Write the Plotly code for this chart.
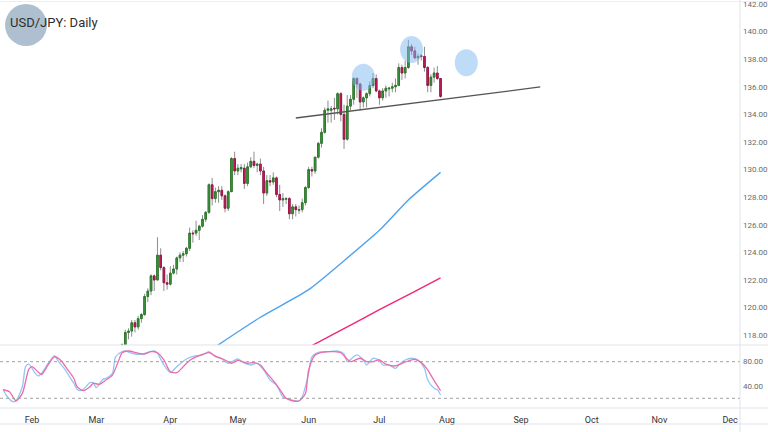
import numpy as np
import pandas as pd
import plotly.graph_objects as go

# ---------------- data ----------------
candle_dates = pd.bdate_range("2022-03-01", "2022-07-28")

opens = [
    # Mar
    115.0, 114.9, 115.5, 115.5, 114.8, 115.3, 115.7, 115.9, 116.1, 117.3, 118.2, 118.3, 118.9, 118.6, 119.2, 119.5, 120.8, 121.2, 122.3, 122.0, 123.8, 122.9, 121.8,
    # Apr
    121.7, 122.5, 122.8, 123.6, 123.8, 123.9, 124.3, 125.4, 125.4, 125.6, 125.9, 126.4, 126.9, 128.9, 127.9, 128.4, 128.5, 128.1, 127.2, 128.4, 130.8,
    # May
    129.9, 130.05, 130.1, 129.0, 130.2, 130.6, 130.3, 130.4, 129.9, 128.3, 129.2, 129.1, 129.4, 128.2, 127.8, 127.85, 127.9, 126.8, 127.3, 127.05, 127.1, 127.6,
    # Jun
    128.7, 130.0, 129.9, 130.9, 131.9, 132.7, 134.3, 134.3, 134.45, 134.4, 135.5, 134.0, 132.2, 134.6, 135.1, 136.6, 136.2, 134.9, 135.2, 135.5, 136.1, 136.6,
    # Jul
    135.7, 135.2, 135.7, 135.85, 135.9, 136.0, 136.1, 137.4, 137.0, 137.4, 138.9, 138.6, 138.1, 138.25, 138.2, 137.4, 136.1, 136.7, 137.0, 136.6,
]
highs = [
    115.2, 115.6, 115.8, 115.5, 115.5, 115.8, 116.2, 116.3, 117.4, 118.4, 118.5, 119.1, 119.1, 119.4, 119.6, 121.0, 121.4, 122.4, 122.4, 125.1, 124.3, 123.0, 122.4,
    123.0, 123.1, 123.7, 124.0, 124.1, 124.4, 125.8, 125.6, 126.3, 126.0, 126.7, 127.0, 129.0, 129.4, 128.7, 128.8, 128.8, 128.2, 128.5, 130.9, 131.3,
    130.4, 130.4, 130.4, 130.5, 130.9, 131.3, 130.5, 130.8, 130.2, 129.6, 129.6, 129.8, 129.5, 128.9, 128.3, 128.0, 128.0, 127.5, 127.5, 127.4, 127.9, 128.8,
    130.2, 130.2, 130.9, 132.0, 133.0, 134.5, 135.0, 134.6, 135.2, 135.6, 135.6, 134.7, 135.4, 135.4, 136.7, 136.7, 136.3, 135.3, 135.6, 136.4, 137.0, 136.9,
    135.8, 135.9, 136.1, 136.0, 136.3, 136.6, 137.7, 137.6, 137.9, 139.4, 139.1, 138.9, 138.4, 138.4, 138.9, 137.5, 136.9, 137.4, 137.5, 136.6,
]
lows = [
    114.6, 114.8, 115.3, 114.7, 114.7, 115.0, 115.6, 115.7, 116.0, 117.1, 117.7, 117.9, 118.2, 118.4, 118.9, 119.4, 120.4, 120.9, 121.2, 122.0, 122.7, 121.2, 121.3,
    121.6, 122.4, 122.4, 123.3, 123.3, 123.7, 124.1, 124.7, 125.2, 124.9, 125.8, 126.2, 126.8, 127.4, 127.6, 127.6, 127.8, 126.9, 127.0, 128.4, 129.6,
    129.6, 129.8, 128.6, 128.8, 130.1, 130.1, 129.8, 129.6, 127.5, 128.1, 128.8, 128.9, 128.0, 127.0, 127.3, 127.5, 126.4, 126.4, 126.6, 126.8, 126.9, 127.4,
    128.6, 129.5, 129.7, 130.8, 131.6, 132.6, 133.4, 133.4, 133.6, 134.0, 133.5, 131.5, 132.1, 134.3, 134.7, 135.2, 134.3, 134.5, 134.5, 135.3, 135.9, 135.6,
    134.7, 135.0, 135.2, 135.3, 135.6, 135.6, 136.1, 136.5, 136.6, 137.3, 138.3, 138.0, 137.6, 137.9, 137.1, 135.6, 135.6, 136.3, 136.5, 135.2,
]
closes = [
    114.9, 115.5, 115.5, 114.8, 115.3, 115.7, 115.9, 116.1, 117.3, 118.2, 118.3, 118.9, 118.6, 119.2, 119.5, 120.8, 121.2, 122.3, 122.0, 123.8, 122.9, 121.8, 121.7,
    122.5, 122.8, 123.6, 123.8, 123.9, 124.3, 125.4, 125.35, 125.6, 125.9, 126.4, 126.9, 128.9, 127.9, 128.4, 128.5, 128.1, 127.2, 128.4, 130.8, 129.9,
    130.1, 130.15, 129.0, 130.2, 130.6, 130.3, 130.4, 129.9, 128.3, 129.2, 129.1, 129.4, 128.2, 127.8, 127.9, 127.9, 126.8, 127.3, 127.1, 127.1, 127.6, 128.7,
    130.0, 129.9, 130.9, 131.9, 132.7, 134.3, 134.4, 134.4, 134.4, 135.5, 134.0, 132.2, 134.6, 135.1, 136.6, 136.2, 134.9, 135.2, 135.5, 136.1, 136.6, 135.7,
    135.2, 135.7, 135.9, 135.9, 136.0, 136.1, 137.4, 137.0, 137.4, 138.9, 138.6, 138.1, 138.2, 138.2, 137.4, 136.1, 136.7, 137.0, 136.6, 135.3,
]
assert len(opens) == len(highs) == len(lows) == len(closes) == len(candle_dates)

# moving averages
ma100_dates = ["2022-04-20", "2022-05-11", "2022-06-01", "2022-06-16", "2022-07-01", "2022-07-14", "2022-07-28"]
ma100_vals = [117.0, 119.3, 121.3, 123.4, 125.6, 127.8, 129.8]
ma200_dates = ["2022-06-02", "2022-06-17", "2022-07-01", "2022-07-15", "2022-07-28"]
ma200_vals = [117.25, 118.6, 119.85, 121.05, 122.15]

# stochastic %K (blue) and %D (pink)
k_dates = ["2022-01-19", "2022-01-20", "2022-01-24", "2022-01-25", "2022-01-27", "2022-01-28", "2022-01-31",
           "2022-02-02", "2022-02-03", "2022-02-04", "2022-02-08", "2022-02-10", "2022-02-11", "2022-02-15", "2022-02-16",
           "2022-02-18", "2022-02-21", "2022-02-22", "2022-02-23", "2022-02-25", "2022-02-28",
           "2022-03-01", "2022-03-03", "2022-03-04", "2022-03-08", "2022-03-09", "2022-03-11", "2022-03-14", "2022-03-16",
           "2022-03-21", "2022-03-23", "2022-03-25", "2022-03-28", "2022-03-30",
           "2022-04-01", "2022-04-05", "2022-04-08", "2022-04-13", "2022-04-15", "2022-04-19", "2022-04-21", "2022-04-25", "2022-04-27",
           "2022-05-02", "2022-05-04", "2022-05-06", "2022-05-10", "2022-05-12", "2022-05-16", "2022-05-18", "2022-05-20",
           "2022-05-24", "2022-05-27", "2022-05-30",
           "2022-06-01", "2022-06-02", "2022-06-06", "2022-06-09", "2022-06-14", "2022-06-16", "2022-06-17", "2022-06-21",
           "2022-06-22", "2022-06-24", "2022-06-27", "2022-06-29",
           "2022-07-01", "2022-07-04", "2022-07-06", "2022-07-08", "2022-07-11", "2022-07-13", "2022-07-15", "2022-07-19",
           "2022-07-21", "2022-07-22", "2022-07-26", "2022-07-27", "2022-07-28"]
k_vals = [34.8, 25, 14.5, 15.6, 39, 71.8, 76,
          61, 56.5, 61, 77, 90, 82, 69, 61,
          44.6, 34.8, 32.5, 34.8, 45.6, 45.6,
          37.4, 51, 52.8, 61, 88, 96.4, 97.5, 93.8,
          92, 95.4, 97.5, 93.8, 74.6,
          62.6, 71.8, 84.4, 89.8, 91, 96.4, 88, 84.4, 77.4,
          84.4, 77.4, 74.6, 77.4, 66.4, 50, 41.8, 22.6,
          18.4, 16, 22.6,
          61, 88, 95.4, 96.4, 97.5, 92.6, 80, 88,
          91, 82.8, 74.6, 85.6,
          82.5, 74.6, 74.6, 69, 74.6, 82.8, 85.6, 82.5,
          69, 50, 36.4, 34, 25.4]
d_dates = ["2022-01-19", "2022-01-21", "2022-01-25", "2022-01-27", "2022-01-31",
           "2022-02-01", "2022-02-03", "2022-02-04", "2022-02-08", "2022-02-10", "2022-02-14", "2022-02-16", "2022-02-18",
           "2022-02-21", "2022-02-23", "2022-02-25", "2022-02-28",
           "2022-03-02", "2022-03-04", "2022-03-08", "2022-03-10", "2022-03-11", "2022-03-15", "2022-03-18", "2022-03-22",
           "2022-03-24", "2022-03-28", "2022-03-30",
           "2022-04-01", "2022-04-05", "2022-04-07", "2022-04-11", "2022-04-14", "2022-04-19", "2022-04-21", "2022-04-26", "2022-04-28",
           "2022-05-02", "2022-05-05", "2022-05-09", "2022-05-11", "2022-05-13", "2022-05-17", "2022-05-19", "2022-05-23",
           "2022-05-25", "2022-05-27", "2022-05-31",
           "2022-06-01", "2022-06-03", "2022-06-07", "2022-06-13", "2022-06-15", "2022-06-17", "2022-06-20", "2022-06-23",
           "2022-06-27", "2022-06-29",
           "2022-07-01", "2022-07-05", "2022-07-08", "2022-07-12", "2022-07-18", "2022-07-20", "2022-07-22", "2022-07-26", "2022-07-28"]
d_vals = [34, 30.8, 16, 28, 67.5,
          71.8, 62.6, 59, 74.6, 88, 82, 67.5, 52.8,
          39, 32.5, 39, 44.6,
          43, 50, 58, 82.8, 94.7, 97.5, 93.8, 92.6,
          96.4, 94.7, 82.8,
          63.6, 62, 71.8, 82, 89.8, 94.7, 89, 82.8, 77.4,
          82, 77.4, 78.5, 74.6, 61, 48.9, 34.8, 20,
          16, 15.6, 28,
          66.4, 91, 95.4, 96.4, 94.7, 83.8, 80, 85.6,
          80, 80,
          82.8, 76, 73, 77.4, 83.8, 78.5, 66.4, 48.9, 32.5]
assert len(k_dates) == len(k_vals) and len(d_dates) == len(d_vals)
stoch_levels = [80, 20]

# drawings: neckline and highlight circles
trend_dates = ["2022-05-26", "2022-09-09"]
trend_prices = [133.74, 135.99]
circle_dates = ["2022-06-24", "2022-07-15", "2022-08-09"]
circle_prices = [136.7, 138.7, 137.75]

# axis ticks
price_ticks = [118, 120, 122, 124, 126, 128, 130, 132, 134, 136, 138, 140, 142]
stoch_ticks = [40, 80]
month_tick_dates = ["2022-02-01", "2022-03-01", "2022-04-01", "2022-05-02", "2022-06-01", "2022-07-01",
                    "2022-08-01", "2022-09-01", "2022-10-03", "2022-11-01", "2022-12-01"]
month_labels = ["Feb", "Mar", "Apr", "May", "Jun", "Jul", "Aug", "Sep", "Oct", "Nov", "Dec"]
title_text = "USD/JPY: Daily"


# ---------------- figure ----------------
def noon(d):
    return pd.to_datetime(d) + pd.Timedelta(hours=12)


W, H = 768, 432
ML, MR, MT, MB = 0, 28, 0, 24
PW, PH = W - ML - MR, H - MT - MB

o = np.array(opens); c = np.array(closes)
body_hi = np.maximum(o, c)
body_lo = np.minimum(o, c)

WICK = "#8e8e8e"
UP_FILL, UP_LINE = "#3f9d3c", "#2c7a2a"
DN_FILL, DN_LINE = "#c8215f", "#9e1549"

fig = go.Figure()
xc = noon(candle_dates)
fig.add_trace(go.Candlestick(
    x=xc, open=opens, high=highs, low=lows, close=closes,
    increasing=dict(line=dict(color=WICK, width=1), fillcolor=WICK),
    decreasing=dict(line=dict(color=WICK, width=1), fillcolor=WICK),
    whiskerwidth=0, xaxis="x", yaxis="y", hoverinfo="skip", showlegend=False))
fig.add_trace(go.Candlestick(
    x=xc, open=opens, high=body_hi, low=body_lo, close=closes,
    increasing=dict(line=dict(color=UP_LINE, width=1), fillcolor=UP_FILL),
    decreasing=dict(line=dict(color=DN_LINE, width=1), fillcolor=DN_FILL),
    whiskerwidth=0, xaxis="x", yaxis="y", hoverinfo="skip", showlegend=False))

fig.add_trace(go.Scatter(x=noon(ma100_dates), y=ma100_vals, mode="lines",
                         line=dict(color="#4fa2ef", width=1.4, shape="spline", smoothing=0.6),
                         xaxis="x", yaxis="y", showlegend=False))
fig.add_trace(go.Scatter(x=noon(ma200_dates), y=ma200_vals, mode="lines",
                         line=dict(color="#ee2a7b", width=1.5, shape="spline", smoothing=0.6),
                         xaxis="x", yaxis="y", showlegend=False))
fig.add_trace(go.Scatter(x=noon(trend_dates), y=trend_prices, mode="lines",
                         line=dict(color="#555555", width=1.3),
                         xaxis="x", yaxis="y", showlegend=False))

fig.add_trace(go.Scatter(x=noon(k_dates), y=k_vals, mode="lines",
                         line=dict(color="#93c6f6", width=1.3, shape="spline", smoothing=0.7),
                         xaxis="x2", yaxis="y2", showlegend=False))
fig.add_trace(go.Scatter(x=noon(d_dates), y=d_vals, mode="lines",
                         line=dict(color="#f06aaa", width=1.3, shape="spline", smoothing=0.7),
                         xaxis="x2", yaxis="y2", showlegend=False))

shapes = []
for cd, cp in zip(circle_dates, circle_prices):
    shapes.append(dict(type="circle", xref="x", yref="y", xsizemode="pixel", ysizemode="pixel",
                       xanchor=noon(cd), yanchor=cp, x0=-11.5, x1=11.5, y0=-13.5, y1=13.5,
                       fillcolor="rgba(125,183,240,0.5)", line=dict(width=0)))
for lv in stoch_levels:
    shapes.append(dict(type="line", xref="paper", yref="y2", x0=0, x1=1, y0=lv, y1=lv,
                       line=dict(color="#a0a0a0", width=1, dash="dot")))

SEP = "#e0e3eb"
def py(px):  # pixel (from top) -> paper y
    return 1 - (px - MT) / PH
xr_full = (W - ML) / PW
for ypx in [345, 408, 424]:
    shapes.append(dict(type="line", xref="paper", yref="paper", x0=0, x1=xr_full,
                       y0=py(ypx), y1=py(ypx), line=dict(color=SEP, width=1)))
shapes.append(dict(type="line", xref="paper", yref="paper", x0=0, x1=xr_full,
                   y0=py(1.5), y1=py(1.5), line=dict(color="#eeeeee", width=1)))
shapes.append(dict(type="line", xref="paper", yref="paper", x0=1, x1=1,
                   y0=py(H), y1=py(0), line=dict(color=SEP, width=1)))
# logo badge
shapes.append(dict(type="circle", xref="paper", yref="paper",
                   x0=5 / PW, x1=47 / PW, y0=py(46), y1=py(4),
                   fillcolor="#aec0cf", line=dict(width=0)))

# x range keeps ~3.22 px per trading day, Feb 1 at x=32
XR = [pd.Timestamp("2022-01-18 13:16"), pd.Timestamp("2022-12-06 14:00")]
RB = [dict(bounds=["sat", "mon"])]
axfont = dict(family="Roboto, Liberation Sans, sans-serif", size=8, color="#6a6a6a")

fig.update_layout(
    width=W, height=H, margin=dict(l=ML, r=MR, t=MT, b=MB),
    paper_bgcolor="white", plot_bgcolor="white", showlegend=False,
    hovermode=False,
    shapes=shapes,
    xaxis=dict(domain=[0, 1], anchor="y", range=XR, rangebreaks=RB, showticklabels=False,
               showgrid=False, zeroline=False, showline=False, ticks="",
               rangeslider=dict(visible=False)),
    yaxis=dict(domain=[py(345), 1], anchor="x", side="right", range=[117.29, 142.29],
               tickvals=price_ticks, tickformat=".2f", showgrid=False, zeroline=False,
               showline=False, ticks="", tickfont=axfont, ticklabelstandoff=2,
               ticklabeloverflow="allow", automargin=False),
    xaxis2=dict(domain=[0, 1], anchor="y2", matches="x", range=XR, rangebreaks=RB,
                tickvals=noon(month_tick_dates), ticktext=month_labels,
                tickfont=dict(family="Roboto, Liberation Sans, sans-serif", size=9, color="#333333"),
                showgrid=False, zeroline=False, showline=False, ticks="", ticklabelstandoff=5,
                rangeslider=dict(visible=False), automargin=False),
    yaxis2=dict(domain=[0, py(346)], anchor="x2", side="right", range=[4.1, 105.7],
                tickvals=stoch_ticks, tickformat=".2f", showgrid=False, zeroline=False,
                showline=False, ticks="", tickfont=axfont, ticklabelstandoff=2,
                ticklabeloverflow="allow", automargin=False),
    annotations=[dict(text=title_text, xref="paper", yref="paper", x=8 / PW, y=py(22),
                      xanchor="left", yanchor="middle", showarrow=False,
                      font=dict(family="Roboto, sans-serif", size=13, color="#2e2e2e"))],
)

fig.write_html("out.html")
